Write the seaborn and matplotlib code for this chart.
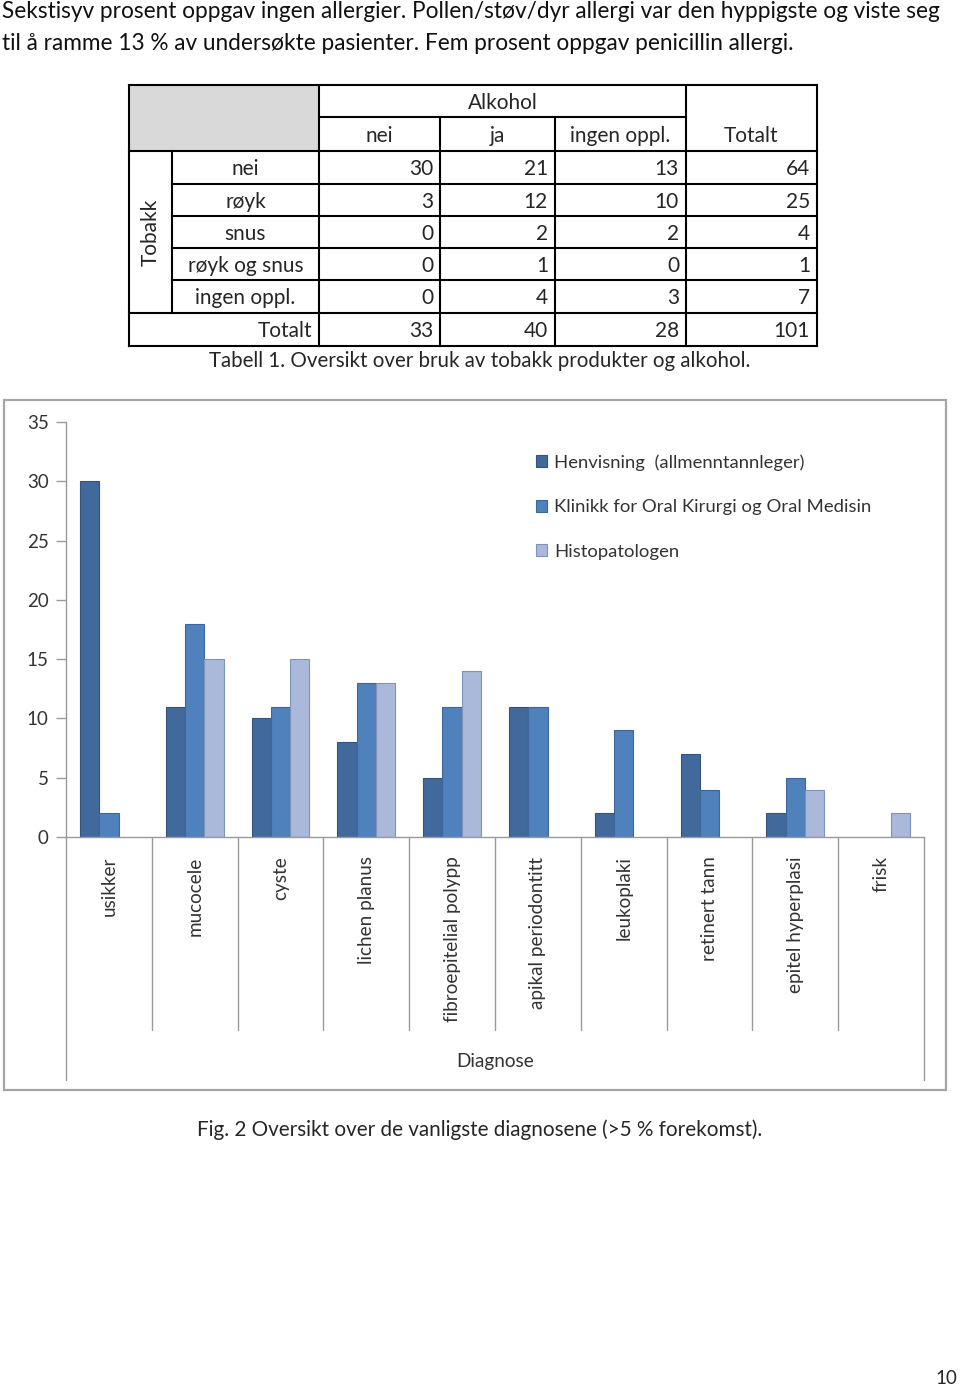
import numpy as np
import pandas as pd
import matplotlib
matplotlib.use("Agg")
import matplotlib.pyplot as plt
import seaborn as sns
from matplotlib.patches import Rectangle, Patch

# ---------------- data ----------------
diagnoses = ["usikker", "mucocele", "cyste", "lichen planus", "fibroepitelial polypp",
             "apikal periodontitt", "leukoplaki", "retinert tann", "epitel hyperplasi", "frisk"]
henvisning = [30, 11, 10, 8, 5, 11, 2, 7, 2, 0]
klinikk = [2, 18, 11, 13, 11, 11, 9, 4, 5, 0]
histopatologen = [0, 15, 15, 13, 14, 0, 0, 0, 4, 2]
series_names = ["Henvisning  (allmenntannleger)",
                "Klinikk for Oral Kirurgi og Oral Medisin",
                "Histopatologen"]
y_ticks = [0, 5, 10, 15, 20, 25, 30, 35]

tab_col_labels = ["nei", "ja", "ingen oppl."]
tab_row_labels = ["nei", "røyk", "snus", "røyk og snus", "ingen oppl."]
tab_nei = [30, 3, 0, 0, 0]
tab_ja = [21, 12, 2, 1, 4]
tab_ingen = [13, 10, 2, 0, 3]
tab_totalt = [64, 25, 4, 1, 7]
tab_sum_row = [33, 40, 28, 101]

top_text = ["Sekstisyv prosent oppgav ingen allergier. Pollen/støv/dyr allergi var den hyppigste og viste seg",
            "til å ramme 13 % av undersøkte pasienter. Fem prosent oppgav penicillin allergi."]
table_caption = "Tabell 1. Oversikt over bruk av tobakk produkter og alkohol."
fig_caption = "Fig. 2 Oversikt over de vanligste diagnosene (>5 % forekomst)."

# ---------------- style ----------------
sns.set_style("white")
plt.rcParams["font.family"] = ["Lato", "DejaVu Sans"]

W, H = 960, 1387
fig = plt.figure(figsize=(9.6, 13.87), dpi=100)
bg = fig.add_axes([0, 0, 1, 1], zorder=0)
bg.set_xlim(0, W)
bg.set_ylim(H, 0)
bg.axis("off")

# top paragraph
bg.text(2, 12, top_text[0], fontsize=16.3, ha="left", va="center", color="#111111")
bg.text(2, 44, top_text[1], fontsize=16.3, ha="left", va="center", color="#111111")

# ---------------- table ----------------
xs = [129, 172, 319, 440, 555, 686, 817]
ys = [85, 117, 151, 184, 216, 248, 280, 313, 346]
lw = 1.5
bg.add_patch(Rectangle((xs[0], ys[0]), xs[2] - xs[0], ys[2] - ys[0],
                       facecolor="#d9d9d9", edgecolor="none"))
def hline(y, x0, x1):
    bg.plot([x0, x1], [y, y], color="black", lw=lw, solid_capstyle="projecting")
def vline(x, y0, y1):
    bg.plot([x, x], [y0, y1], color="black", lw=lw, solid_capstyle="projecting")
hline(ys[0], xs[0], xs[6]); hline(ys[8], xs[0], xs[6])
vline(xs[0], ys[0], ys[8]); vline(xs[6], ys[0], ys[8])
hline(ys[1], xs[2], xs[5])
hline(ys[2], xs[0], xs[6])
for y in ys[3:7]:
    hline(y, xs[1], xs[6])
hline(ys[7], xs[0], xs[6])
vline(xs[1], ys[2], ys[7])
vline(xs[2], ys[0], ys[8])
vline(xs[3], ys[1], ys[8]); vline(xs[4], ys[1], ys[8])
vline(xs[5], ys[0], ys[8])

tfs = 15
bg.text((xs[2] + xs[5]) / 2, (ys[0] + ys[1]) / 2 + 2, "Alkohol", fontsize=tfs, ha="center", va="center")
for i, lab in enumerate(tab_col_labels):
    bg.text((xs[2 + i] + xs[3 + i]) / 2, (ys[1] + ys[2]) / 2 + 2, lab, fontsize=tfs, ha="center", va="center")
bg.text((xs[5] + xs[6]) / 2, (ys[1] + ys[2]) / 2 + 2, "Totalt", fontsize=tfs, ha="center", va="center")
bg.text((xs[0] + xs[1]) / 2, (ys[2] + ys[7]) / 2, "Tobakk", fontsize=tfs, ha="center", va="center", rotation=90)
cols = [tab_nei, tab_ja, tab_ingen, tab_totalt]
for r, lab in enumerate(tab_row_labels):
    yc = (ys[2 + r] + ys[3 + r]) / 2 + 1.5
    bg.text((xs[1] + xs[2]) / 2, yc, lab, fontsize=tfs, ha="center", va="center")
    for c in range(4):
        bg.text(xs[3 + c] - 7, yc, str(cols[c][r]), fontsize=tfs, ha="right", va="center")
yc = (ys[7] + ys[8]) / 2 + 1.5
bg.text(xs[2] - 7, yc, "Totalt", fontsize=tfs, ha="right", va="center")
for c in range(4):
    bg.text(xs[3 + c] - 7, yc, str(tab_sum_row[c]), fontsize=tfs, ha="right", va="center")
bg.text(480, 361, table_caption, fontsize=14.8, ha="center", va="center")

# ---------------- chart frame ----------------
bg.add_patch(Rectangle((4, 400), 942, 690, facecolor="none", edgecolor="#a6a6a6", lw=1.6))

# ---------------- bar chart ----------------
df = pd.DataFrame({
    "Diagnose": diagnoses * 3,
    "Antall": henvisning + klinikk + histopatologen,
    "Kilde": [series_names[0]] * 10 + [series_names[1]] * 10 + [series_names[2]] * 10,
})
face = ["#41699c", "#4f81bd", "#aab9da"]
edge = ["#34547d", "#3e6797", "#7f93b8"]

ax = fig.add_axes([66 / W, 1 - 837 / H, (924 - 66) / W, 415 / H], zorder=2)
ax.patch.set_alpha(0)
sns.barplot(data=df, x="Diagnose", y="Antall", hue="Kilde", order=diagnoses,
            hue_order=series_names, palette=face, saturation=1, width=0.675,
            ax=ax, legend=False)
for k, cont in enumerate(ax.containers):
    for p in cont:
        p.set_edgecolor(edge[k])
        p.set_linewidth(0.8)
        if p.get_height() == 0:
            p.set_linewidth(0)
ax.set_xlim(-0.5, len(diagnoses) - 0.5)
ax.set_ylim(0, 35)
ax.set_yticks(y_ticks)
ax.set_xlabel("")
ax.set_ylabel("")
gray = "#9a9a9a"
for s in ["top", "right"]:
    ax.spines[s].set_visible(False)
for s in ["left", "bottom"]:
    ax.spines[s].set_color(gray)
    ax.spines[s].set_linewidth(1.0)
ax.tick_params(axis="y", length=7, width=1, color=gray, pad=5.5, labelsize=13.5, labelcolor="#333333", left=True)
ax.tick_params(axis="x", length=0, pad=14, labelsize=13.6, labelcolor="#333333", labelrotation=90)
for lab in ax.get_xticklabels():
    lab.set_va("top")

trans = ax.get_xaxis_transform()
bounds = np.arange(-0.5, len(diagnoses), 1.0)
for b in bounds:
    end = -0.5855 if (b == bounds[0] or b == bounds[-1]) else -0.465
    ax.plot([b, b], [0, end], transform=trans, clip_on=False, color=gray, lw=1.0)

bg.text(495, 1062, "Diagnose", fontsize=13.7, ha="center", va="center", color="#333333")

handles = [Patch(facecolor=face[i], edgecolor=edge[i], lw=0.8) for i in range(3)]
fig.legend(handles, series_names, loc="upper left", bbox_to_anchor=(536 / W, 1 - 454 / H),
           frameon=False, fontsize=13.3, handlelength=0.62, handleheight=0.62,
           handletextpad=0.35, labelspacing=1.55, borderpad=0, borderaxespad=0,
           labelcolor="#333333")

bg.text(480, 1130, fig_caption, fontsize=14.85, ha="center", va="center")
bg.text(957, 1379, "10", fontsize=13.5, ha="right", va="center")

fig.savefig("out.png", dpi=100)
